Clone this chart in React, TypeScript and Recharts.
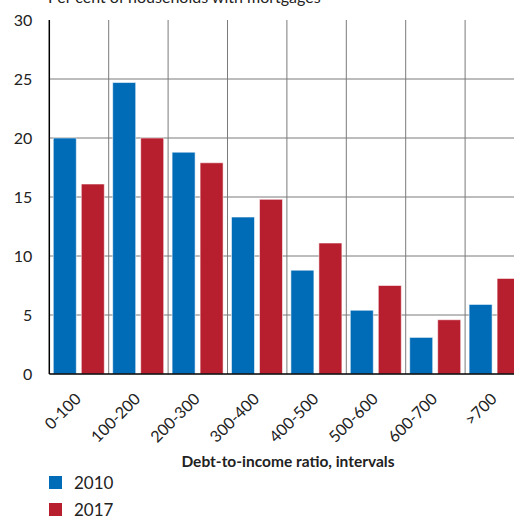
import { BarChart, Bar, XAxis, YAxis, CartesianGrid } from "recharts";

const categories = ["0-100", "100-200", "200-300", "300-400", "400-500", "500-600", "600-700", ">700"];
const s2010 = [20.0, 24.7, 18.8, 13.3, 8.8, 5.4, 3.1, 5.9];
const s2017 = [16.1, 20.0, 17.9, 14.8, 11.1, 7.5, 4.6, 8.1];
const yTicks = [0, 5, 10, 15, 20, 25, 30];
const gridTicks = [5, 10, 15, 20, 25];

const series = [
  { key: "y2010", name: "2010", color: "#006bb6" },
  { key: "y2017", name: "2017", color: "#b81f2e" },
];

const data = categories.map((c, i) => ({ cat: c, y2010: s2010[i], y2017: s2017[i] }));

const FONT = "Lato, 'Open Sans', sans-serif";
const INK = "#222";

function AngledTick({ x, y, payload }: { x?: number; y?: number; payload?: { value: string } }) {
  const ax = (x ?? 0) + 3;
  const ay = (y ?? 0) + 26;
  return (
    <text x={ax} y={ay} textAnchor="end" fontSize={16} fill={INK}
      fontFamily={FONT} transform={`rotate(-45, ${ax}, ${ay})`}>
      {payload?.value}
    </text>
  );
}

export default function App() {
  return (
    <div style={{ position: "fixed", left: 0, top: 0, width: 514, height: 516, overflow: "hidden", background: "#fff", fontFamily: FONT, color: INK }}>
      <div style={{ position: "absolute", left: 48, top: -11, fontSize: 16, lineHeight: "16px", whiteSpace: "nowrap" }}>
        Per cent of households with mortgages
      </div>
      <BarChart width={540} height={516} data={data} barSize={23} barGap={5}
        margin={{ top: 20, right: 15.5, left: 0, bottom: 82 }}>
        <CartesianGrid stroke="#7a7a7a" strokeWidth={1}
          horizontalCoordinatesGenerator={({ offset }: any) =>
            gridTicks.map((v) => offset.top + offset.height * (1 - v / 30))}
          verticalCoordinatesGenerator={({ offset }: any) =>
            categories.map((_, i) => offset.left + ((i + 1) * offset.width) / categories.length)} />
        <XAxis dataKey="cat" interval={0} tickLine={false} tickSize={0} tickMargin={0} height={60}
          axisLine={{ stroke: "#000", strokeWidth: 1.5 }} tick={<AngledTick />} />
        <YAxis domain={[0, 30]} ticks={yTicks} width={49.3} tickLine={false} tickSize={0} tickMargin={17}
          axisLine={{ stroke: "#000", strokeWidth: 1.5 }}
          tick={{ fill: INK, fontSize: 16, fontFamily: FONT }} />
        {series.map((s) => (
          <Bar key={s.key} dataKey={s.key} name={s.name} fill={s.color} stroke="#ffffff" strokeOpacity={0.55}
            strokeWidth={1} isAnimationActive={false} />
        ))}
      </BarChart>
      <div style={{ position: "absolute", left: 0, width: 576, top: 454, textAlign: "center", fontSize: 15.5, lineHeight: "14px", fontWeight: 700 }}>
        Debt-to-income ratio, intervals
      </div>
      {series.map((s, i) => (
        <div key={s.key} style={{ position: "absolute", left: 49, top: 476 + i * 27, height: 13, display: "flex", alignItems: "center", fontSize: 17, lineHeight: "13px" }}>
          <span style={{ width: 13, height: 13, background: s.color, display: "inline-block", marginRight: 12 }} />
          <span>{s.name}</span>
        </div>
      ))}
    </div>
  );
}
